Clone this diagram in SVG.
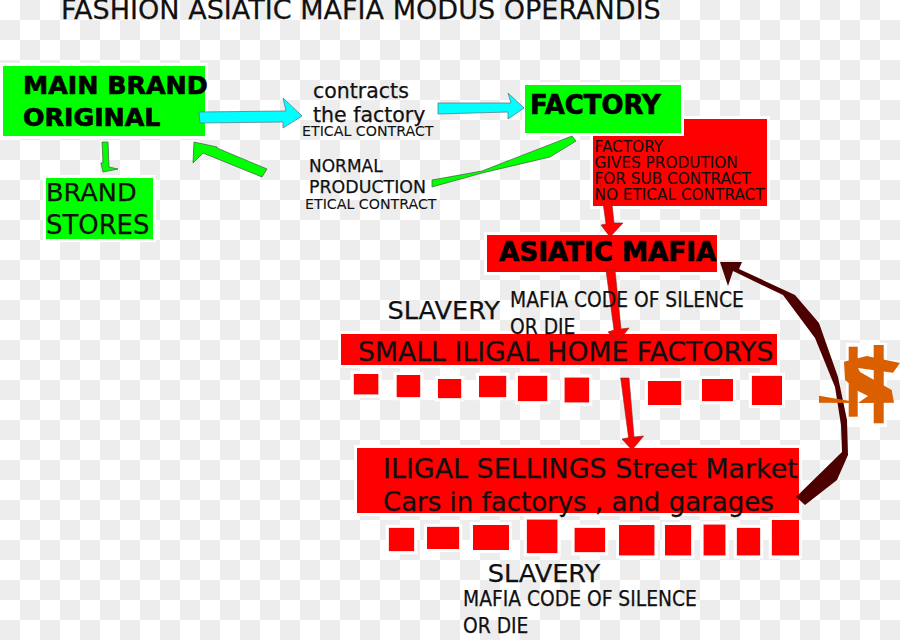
<svg xmlns="http://www.w3.org/2000/svg" width="900" height="640" viewBox="0 0 900 640">
  <style>
    text { font-family: "DejaVu Sans", "Liberation Sans", sans-serif; fill: #111; stroke: #111; stroke-width: 0.25; }
    .small { stroke-width: 0.1; }
    .bold { font-weight: 700; fill: #000; stroke: #000; stroke-width: 0.7; }
    .cond { font-family: "DejaVu Sans Condensed", "DejaVu Sans", sans-serif; font-stretch: condensed; font-size: 20.8px; }
    .halo { filter: url(#halo); }
    .green { fill: #00ff00; }
    .red { fill: #ff0000; }
    .edge-green { fill: #00ff00; stroke: #4a6a4a; stroke-width: 0.8; }
    .edge-cyan { fill: #00ffff; stroke: #557f8a; stroke-width: 0.8; }
    .edge-red { fill: #ff0000; stroke: #8a2020; stroke-width: 0.6; }
    .edge-dark { fill: #4d0000; }
    .orange { fill: #d95f00; }
  </style>
  <defs>
    <pattern id="checker" width="40" height="40" patternUnits="userSpaceOnUse">
      <rect width="40" height="40" fill="#ffffff"/>
      <rect x="20" width="20" height="20" fill="#ededed"/>
      <rect y="20" width="20" height="20" fill="#ededed"/>
    </pattern>
    <!-- white outline around the filled boxes -->
    <filter id="halo" x="-30%" y="-40%" width="160%" height="180%">
      <feMorphology in="SourceAlpha" operator="dilate" radius="3" result="grown"/>
      <feFlood flood-color="#ffffff"/>
      <feComposite in2="grown" operator="in" result="outline"/>
      <feMerge>
        <feMergeNode in="outline"/>
        <feMergeNode in="SourceGraphic"/>
      </feMerge>
    </filter>
  </defs>

  <rect width="900" height="640" fill="url(#checker)"/>

  <g id="main-brand">
    <rect class="green halo" x="3" y="66" width="202" height="70"/>
    <text class="bold" x="23" y="94" font-size="25.3">MAIN BRAND</text>
    <text class="bold" x="23" y="126" font-size="25.3">ORIGINAL</text>
  </g>

  <g id="brand-stores">
    <rect class="green halo" x="46" y="178" width="107" height="61"/>
    <text x="46" y="201" font-size="25.6">BRAND</text>
    <text x="46" y="234" font-size="25.9">STORES</text>
  </g>

  <g id="subcontract">
    <rect class="red halo" x="593" y="119" width="174" height="87"/>
  </g>

  <g id="factory">
    <rect class="green halo" x="525" y="85" width="156" height="48"/>
    <text class="bold" x="530" y="114" font-size="25.9">FACTORY</text>
  </g>

  <g id="asiatic-mafia">
    <rect class="red halo" x="487" y="235" width="230" height="37"/>
    <text class="bold" x="499" y="261" font-size="26.2">ASIATIC MAFIA</text>
  </g>

  <g id="home-factories">
    <rect class="red halo" x="341" y="334" width="436" height="31"/>
  </g>

  <g id="home-workshops" class="halo">
    <rect class="red" x="353.6" y="374" width="25" height="20.7"/>
    <rect class="red" x="396.4" y="375" width="24" height="22.3"/>
    <rect class="red" x="437.9" y="379" width="23.5" height="19.3"/>
    <rect class="red" x="479" y="375.7" width="27.4" height="21.6"/>
    <rect class="red" x="517.9" y="375.7" width="29.6" height="25.6"/>
    <rect class="red" x="564.3" y="377.3" width="25" height="25.4"/>
    <rect class="red" x="647.9" y="381" width="33.5" height="24"/>
    <rect class="red" x="702" y="379" width="31" height="22.3"/>
    <rect class="red" x="751.8" y="375.7" width="30.2" height="29.3"/>
  </g>

  <g id="illegal-sellings">
    <rect class="red halo" x="357" y="448" width="442" height="65"/>
    <text x="383" y="478" font-size="26.9">ILIGAL SELLINGS Street Market</text>
    <text x="383" y="511" font-size="26">Cars in factorys , and garages</text>
  </g>

  <g id="street-stalls" class="halo">
    <rect class="red" x="388.7" y="527.7" width="25.6" height="23.6"/>
    <rect class="red" x="427" y="526.7" width="32.3" height="22.3"/>
    <rect class="red" x="473" y="525" width="36" height="25"/>
    <rect class="red" x="526.7" y="519.3" width="31" height="34"/>
    <rect class="red" x="574.3" y="527.7" width="31" height="24.6"/>
    <rect class="red" x="619" y="525" width="35.7" height="30.7"/>
    <rect class="red" x="665" y="525" width="26.3" height="30.7"/>
    <rect class="red" x="703.3" y="524.3" width="22.4" height="31.4"/>
    <rect class="red" x="736.7" y="527.7" width="23.6" height="28"/>
    <rect class="red" x="771.7" y="520" width="27.3" height="35.7"/>
  </g>

  <g id="dollar">
    <rect x="846" y="343" width="41" height="84" fill="#ffffff"/>
    <rect class="orange" x="848.7" y="346.7" width="9" height="70"/>
    <rect class="orange" x="873.7" y="345" width="10" height="78.3"/>
    <polygon class="orange" points="844,361.7 866.7,356 900,363 893,372.7 858,368 860,372 891.7,390 894,402.7 858,403 868,396 858,391 845,380"/>
  </g>

  <g id="connectors">
    <polygon class="edge-cyan" points="199,112 286,111 283,98 302,116 283,128 283,122 200,123"/>
    <polygon class="edge-cyan" points="438,103 511,103 508,93 524,108 508,119 508,112 438,114"/>
    <polygon class="edge-green" points="194,142 217,147 217,148 267,169 262,177 203,153 193,163"/>
    <polygon class="edge-green" points="572,136 576,141 550,157 482,173 432,187 432,180 482,171"/>
    <polygon class="edge-green" points="102,142 108,142 109,167 118,169 103,172 101,163 103,163"/>
    <polygon class="edge-red" points="598,167 608,167 614,223 623,223 610,237 601,225 606,224"/>
    <polygon class="edge-red" points="606,270 615,270 621,329 629,328 618,342 608,332 614,330"/>
    <polygon class="edge-red" points="620.7,378 629,378 634,437 643.6,436 632,450 622,439 628.6,437.7"/>
    <polygon class="edge-dark" points="720,262 742,262 739,269 795,295 819,323 838,377 847,420 848,455 837,480 805,505 796,497 842,452 841,425 835,387 815,338 783,295 733,271 728,286"/>
    <!-- thin tail of the dollar sign crosses over the returning arrow -->
    <polygon class="orange" points="819,395.7 850,401 858,403 819,402.7"/>
  </g>

  <g id="labels">
    <text x="61" y="19" font-size="27.05">FASHION ASIATIC MAFIA MODUS OPERANDIS</text>
    <text x="313" y="98" font-size="20.5">contracts</text>
    <text x="313" y="122" font-size="20.5">the factory</text>
    <text class="small" x="302" y="136" font-size="14.2">ETICAL CONTRACT</text>
    <text x="309" y="172" font-size="17">NORMAL</text>
    <text x="309" y="193" font-size="17.4">PRODUCTION</text>
    <text class="small" x="305" y="209" font-size="14.2">ETICAL CONTRACT</text>
    <text class="small" x="594.5" y="152" font-size="15.3">FACTORY</text>
    <text class="small" x="594.5" y="168" font-size="15.3">GIVES PRODUTION</text>
    <text class="small" x="594.5" y="184" font-size="15.3">FOR SUB CONTRACT</text>
    <text class="small" x="594.5" y="200" font-size="15.3">NO ETICAL CONTRACT</text>
    <text x="387.5" y="319" font-size="25.6">SLAVERY</text>
    <text class="cond" x="510" y="307">MAFIA CODE OF SILENCE</text>
    <text class="cond" x="510" y="334">OR DIE</text>
    <text x="358" y="361" font-size="26.7">SMALL ILIGAL HOME FACTORYS</text>
    <text x="487.7" y="581.7" font-size="25.6">SLAVERY</text>
    <text class="cond" x="463" y="606">MAFIA CODE OF SILENCE</text>
    <text class="cond" x="463" y="633">OR DIE</text>
  </g>
</svg>
